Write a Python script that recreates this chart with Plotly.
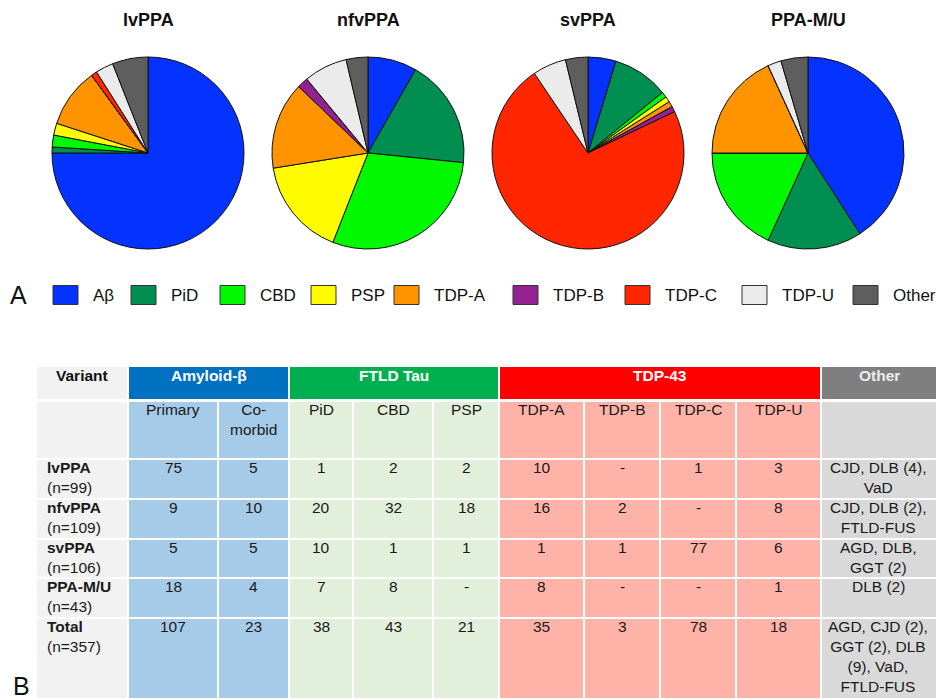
import plotly.graph_objects as go

# ---------------- data ----------------
CATEGORIES = ["Aβ", "PiD", "CBD", "PSP", "TDP-A", "TDP-B", "TDP-C", "TDP-U", "Other"]
CAT_COLORS = ["#0433ff", "#008f51", "#00f900", "#fffb00", "#ff9300",
              "#942192", "#ff2600", "#ebebeb", "#5e5e5e"]

VARIANTS = ["lvPPA", "nfvPPA", "svPPA", "PPA-M/U"]
VARIANT_N = [99, 109, 106, 43]

PRIMARY = [75, 9, 5, 18]
COMORBID = [5, 10, 5, 4]
PID = [1, 20, 10, 7]
CBD = [2, 32, 1, 8]
PSP = [2, 18, 1, 0]
TDP_A = [10, 16, 1, 8]
TDP_B = [0, 2, 1, 0]
TDP_C = [1, 0, 77, 0]
TDP_U = [3, 8, 6, 1]
OTHER_N = [6, 4, 4, 2]
OTHER_TEXT = ["CJD, DLB (4),<br>VaD", "CJD, DLB (2),<br>FTLD-FUS",
              "AGD, DLB,<br>GGT (2)", "DLB (2)"]

TOTAL_N = 357
TOTAL_ROW = [107, 23, 38, 43, 21, 35, 3, 78, 18]
TOTAL_OTHER = "AGD, CJD (2),<br>GGT (2), DLB<br>(9), VaD,<br>FTLD-FUS"

GROUPS = ["Variant", "Amyloid-β", "FTLD Tau", "TDP-43", "Other"]
SUBCOLS = ["Primary", "Co-<br>morbid", "PiD", "CBD", "PSP",
           "TDP-A", "TDP-B", "TDP-C", "TDP-U"]

# ---------------- layout constants ----------------
W, H = 936, 700
FONT = "Liberation Sans, Arial, Helvetica, sans-serif"
PIE_CX = [148, 368, 588, 808]
PIE_CY = 153
PIE_R = 96

COL_EDGES = [36, 128, 218, 289, 353, 433, 499, 584, 660, 736, 821, 938]
COL_GROUP = [0, 1, 1, 2, 2, 2, 3, 3, 3, 3, 4]
GROUP_EDGES = [36, 128, 289, 499, 821, 938]
GROUP_ROW = [367, 399]
ROW_EDGES = [401, 459, 499, 539, 578, 618, 699]

HEAD_COLORS = ["#f2f2f2", "#0070c0", "#00b050", "#ff0000", "#7f7f7f"]
HEAD_TEXT = ["#111111", "#ffffff", "#ffffff", "#ffffff", "#ececec"]
BODY_COLORS = ["#f2f2f2", "#a6cbe8", "#e2efda", "#ffb3a8", "#d9d9d9"]
BODY_SIZE = 15.5


def discrete_scale(colors):
    n = len(colors)
    cs = []
    for i, c in enumerate(colors):
        cs.append([i / n, c])
        cs.append([(i + 1) / n, c])
    return cs


fig = go.Figure()

# ---------------- pies ----------------
series = [PRIMARY, PID, CBD, PSP, TDP_A, TDP_B, TDP_C, TDP_U, OTHER_N]
for vi, name in enumerate(VARIANTS):
    vals = [s[vi] for s in series]
    cx = PIE_CX[vi]
    fig.add_trace(go.Pie(
        labels=CATEGORIES, values=vals, sort=False, direction="clockwise",
        rotation=0, marker=dict(colors=CAT_COLORS, line=dict(color="#111111", width=1)),
        textinfo="none", hoverinfo="label+value", showlegend=False,
        domain=dict(x=[(cx - PIE_R) / W, (cx + PIE_R) / W],
                    y=[1 - (PIE_CY + PIE_R) / H, 1 - (PIE_CY - PIE_R) / H]),
    ))
    fig.add_annotation(xref="paper", yref="paper", x=cx / W, y=1 - 20 / H,
                       text="<b>%s</b>" % name, showarrow=False,
                       font=dict(family=FONT, size=18, color="#111111"),
                       xanchor="center", yanchor="middle")

# ---------------- legend (A) ----------------
LEG_X = [53, 131, 220, 311, 394, 513, 625, 742, 853]
LEG_Y = 295
for lx, lab, col in zip(LEG_X, CATEGORIES, CAT_COLORS):
    fig.add_shape(type="rect", xref="x", yref="y", x0=lx, x1=lx + 25,
                  y0=LEG_Y - 9.5, y1=LEG_Y + 9.5, fillcolor=col,
                  line=dict(color="#333333", width=1))
    fig.add_annotation(xref="x", yref="y", x=lx + 38, y=LEG_Y, text=lab,
                       showarrow=False, xanchor="left", yanchor="middle",
                       font=dict(family=FONT, size=17, color="#111111"))

fig.add_annotation(xref="x", yref="y", x=18, y=LEG_Y, text="A", showarrow=False,
                   font=dict(family=FONT, size=25, color="#111111"),
                   xanchor="center", yanchor="middle")
fig.add_annotation(xref="x", yref="y", x=21, y=686, text="B", showarrow=False,
                   font=dict(family=FONT, size=25, color="#111111"),
                   xanchor="center", yanchor="middle")

# ---------------- table (B) ----------------
# group header row
fig.add_trace(go.Heatmap(
    x=GROUP_EDGES, y=GROUP_ROW, z=[list(range(len(GROUPS)))],
    colorscale=discrete_scale(HEAD_COLORS), zmin=-0.5, zmax=len(GROUPS) - 0.5,
    xgap=2, ygap=0, showscale=False, hoverinfo="skip"))
for gi, g in enumerate(GROUPS):
    fig.add_annotation(xref="x", yref="y",
                       x=(GROUP_EDGES[gi] + GROUP_EDGES[gi + 1]) / 2, y=375,
                       text="<b>%s</b>" % g, showarrow=False,
                       xanchor="center", yanchor="middle",
                       font=dict(family=FONT, size=15.5, color=HEAD_TEXT[gi]))

# body rows
nrows = len(ROW_EDGES) - 1
fig.add_trace(go.Heatmap(
    x=COL_EDGES, y=ROW_EDGES, z=[COL_GROUP[:] for _ in range(nrows)],
    colorscale=discrete_scale(BODY_COLORS), zmin=-0.5, zmax=len(BODY_COLORS) - 0.5,
    xgap=2, ygap=2, showscale=False, hoverinfo="skip"))


def cell_text(v):
    return "-" if v == 0 else str(v)


rows = []
rows.append(("", SUBCOLS, ""))
for vi, name in enumerate(VARIANTS):
    vals = [PRIMARY[vi], COMORBID[vi], PID[vi], CBD[vi], PSP[vi],
            TDP_A[vi], TDP_B[vi], TDP_C[vi], TDP_U[vi]]
    rows.append(("<b>%s</b><br>(n=%d)" % (name, VARIANT_N[vi]),
                 [cell_text(v) for v in vals], OTHER_TEXT[vi]))
rows.append(("<b>Total</b><br>(n=%d)" % TOTAL_N,
             [cell_text(v) for v in TOTAL_ROW], TOTAL_OTHER))

TXT = "#1a1a1a"
for ri, (lab, cells, other) in enumerate(rows):
    ytop = ROW_EDGES[ri] - 2
    if lab:
        fig.add_annotation(xref="x", yref="y", x=COL_EDGES[0] + 9, y=ytop,
                           text=lab, showarrow=False, xanchor="left", yanchor="top",
                           align="left", font=dict(family=FONT, size=BODY_SIZE, color=TXT))
    for ci, t in enumerate(cells):
        xc = (COL_EDGES[ci + 1] + COL_EDGES[ci + 2]) / 2
        fig.add_annotation(xref="x", yref="y", x=xc, y=ytop, text=t,
                           showarrow=False, xanchor="center", yanchor="top",
                           align="center", font=dict(family=FONT, size=BODY_SIZE, color=TXT))
    if other:
        xc = (COL_EDGES[-2] + 935) / 2
        fig.add_annotation(xref="x", yref="y", x=xc, y=ytop, text=other,
                           showarrow=False, xanchor="center", yanchor="top",
                           align="center", font=dict(family=FONT, size=BODY_SIZE, color=TXT))

fig.update_layout(
    width=W, height=H, autosize=False,
    margin=dict(l=0, r=0, t=0, b=0),
    paper_bgcolor="white", plot_bgcolor="white",
    font=dict(family=FONT),
    xaxis=dict(range=[0, W], domain=[0, 1], visible=False, fixedrange=True),
    yaxis=dict(range=[H, 0], domain=[0, 1], visible=False, fixedrange=True),
    showlegend=False,
)

fig.write_html("out.html",
               config={"displayModeBar": False},
               post_script="document.body.style.margin='0px';"
                           "document.body.style.overflow='hidden';")
